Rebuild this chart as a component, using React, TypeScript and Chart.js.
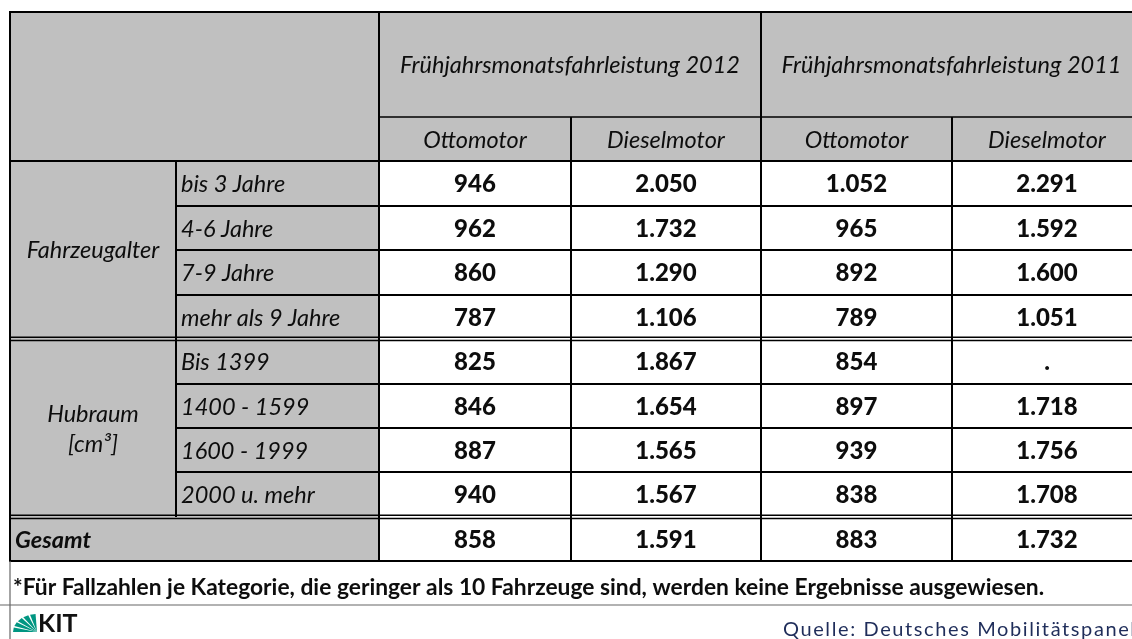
import React, { useEffect, useRef } from "react";
import { Chart, registerables } from "chart.js";

Chart.register(...registerables);

// ---- data ----
const yearHeaders = ["Frühjahrsmonatsfahrleistung 2012", "Frühjahrsmonatsfahrleistung 2011"];
const engineHeaders = ["Ottomotor", "Dieselmotor", "Ottomotor", "Dieselmotor"];
const groupLabels = [["Fahrzeugalter"], ["Hubraum", "[cm³]"]];
const rowLabels = [
  "bis 3 Jahre",
  "4-6 Jahre",
  "7-9 Jahre",
  "mehr als 9 Jahre",
  "Bis 1399",
  "1400 - 1599",
  "1600 - 1999",
  "2000 u. mehr",
];
const totalLabel = "Gesamt";
const otto2012 = [946, 962, 860, 787, 825, 846, 887, 940];
const diesel2012 = [2050, 1732, 1290, 1106, 1867, 1654, 1565, 1567];
const otto2011 = [1052, 965, 892, 789, 854, 897, 939, 838];
const diesel2011 = [2291, 1592, 1600, 1051, null, 1718, 1756, 1708];
const totals = [858, 1591, 883, 1732];
const footnote =
  "*Für Fallzahlen je Kategorie, die geringer als 10 Fahrzeuge sind, werden keine Ergebnisse ausgewiesen.";
const sourceText = "Quelle: Deutsches Mobilitätspanel";

// ---- layout (scale units) ----
const W = 1132;
const H = 639;
const colEdges = [10, 176, 379, 571, 761, 952, 1142];
const rowEdges = [12, 117, 161, 206, 250, 295, 339, 384, 428, 472, 517, 561];
const GRAY = "#c0c0c0";
const FONT = "Lato, 'Open Sans', sans-serif";

function fmt(v: number | null): string {
  if (v === null || v === undefined) return ".";
  if (v >= 1000) return `${Math.floor(v / 1000)}.${String(v % 1000).padStart(3, "0")}`;
  return String(v);
}

const valueColumns = [otto2012, diesel2012, otto2011, diesel2011];

const tablePlugin = {
  id: "tablePlugin",
  beforeDatasetsDraw(chart: any) {
    const ctx = chart.ctx as CanvasRenderingContext2D;
    const xs = chart.scales.x;
    const ys = chart.scales.y;
    const X = (v: number) => xs.getPixelForValue(v);
    const Y = (v: number) => ys.getPixelForValue(v);
    ctx.save();
    ctx.fillStyle = "#ffffff";
    ctx.fillRect(0, 0, chart.width, chart.height);
    ctx.fillStyle = GRAY;
    ctx.fillRect(X(colEdges[0]), Y(rowEdges[0]), X(colEdges[6]) - X(colEdges[0]), Y(rowEdges[2]) - Y(rowEdges[0]));
    ctx.fillRect(X(colEdges[0]), Y(rowEdges[2]), X(colEdges[2]) - X(colEdges[0]), Y(rowEdges[11]) - Y(rowEdges[2]));

    const hline = (y: number, x0: number, x1: number, w = 2, c = "#000") => {
      ctx.strokeStyle = c;
      ctx.lineWidth = w;
      ctx.beginPath();
      ctx.moveTo(X(x0), Y(y));
      ctx.lineTo(X(x1), Y(y));
      ctx.stroke();
    };
    const vline = (x: number, y0: number, y1: number, w = 2, c = "#000") => {
      ctx.strokeStyle = c;
      ctx.lineWidth = w;
      ctx.beginPath();
      ctx.moveTo(X(x), Y(y0));
      ctx.lineTo(X(x), Y(y1));
      ctx.stroke();
    };
    const L = colEdges[0];
    const R = colEdges[6];
    hline(rowEdges[0], L - 1, R);
    hline(rowEdges[1], colEdges[2], R, 1.5);
    hline(rowEdges[2], L - 1, R);
    [3, 4, 5, 7, 8, 9].forEach((i) => hline(rowEdges[i], colEdges[1], R));
    [6, 10].forEach((i) => {
      hline(rowEdges[i] - 1.8, L - 1, R, 1.5);
      hline(rowEdges[i] + 1.6, L - 1, R, 1.5);
    });
    hline(rowEdges[11], L - 1, R);
    vline(L, rowEdges[0] - 1, rowEdges[11]);
    vline(colEdges[1], rowEdges[2], rowEdges[10]);
    vline(colEdges[2], rowEdges[0], rowEdges[11]);
    vline(colEdges[4], rowEdges[0], rowEdges[11]);
    vline(colEdges[3], rowEdges[1], rowEdges[11]);
    vline(colEdges[5], rowEdges[1], rowEdges[11]);
    hline(605, 0, W, 1.2, "#666");
    vline(L, rowEdges[11], H, 1.2, "#666");
    ctx.restore();
  },
  afterDatasetsDraw(chart: any) {
    const ctx = chart.ctx as CanvasRenderingContext2D;
    const xs = chart.scales.x;
    const ys = chart.scales.y;
    const X = (v: number) => xs.getPixelForValue(v);
    const Y = (v: number) => ys.getPixelForValue(v);
    const cx = (i: number) => (X(colEdges[i]) + X(colEdges[i + 1])) / 2;
    const cy = (i: number) => (Y(rowEdges[i]) + Y(rowEdges[i + 1])) / 2;
    ctx.save();
    ctx.textBaseline = "middle";
    ctx.fillStyle = "#0d0d0d";
    ctx.font = `italic 23.5px ${FONT}`;
    ctx.textAlign = "center";
    yearHeaders.forEach((t, i) => {
      ctx.fillText(t, (X(colEdges[2 + i * 2]) + X(colEdges[4 + i * 2])) / 2, cy(0) + 1);
    });
    engineHeaders.forEach((t, i) => ctx.fillText(t, cx(2 + i), cy(1) + 1));
    ctx.fillText(groupLabels[0][0], cx(0), (Y(rowEdges[2]) + Y(rowEdges[6])) / 2);
    const hm = (Y(rowEdges[6]) + Y(rowEdges[10])) / 2;
    ctx.fillText(groupLabels[1][0], cx(0), hm - 14);
    ctx.fillText(groupLabels[1][1], cx(0), hm + 16);
    ctx.textAlign = "left";
    rowLabels.forEach((t, i) => ctx.fillText(t, X(colEdges[1]) + 5, cy(i + 2) + 1));
    ctx.font = `italic bold 23.5px ${FONT}`;
    ctx.fillText(totalLabel, X(colEdges[0]) + 5, cy(10) + 1);
    ctx.font = `900 24px ${FONT}`;
    ctx.textAlign = "center";
    chart.data.datasets.forEach((ds: any, di: number) => {
      const meta = chart.getDatasetMeta(di);
      meta.data.forEach((el: any, pi: number) => {
        ctx.fillText(ds.labelsText[pi], el.x, el.y + 1);
      });
    });
    ctx.textAlign = "left";
    ctx.font = `bold 22.8px ${FONT}`;
    ctx.fillText(footnote, 13, 588);
    // KIT logo
    ctx.fillStyle = "#009682";
    const ox = 15, oy = 632;
    for (let k = 0; k < 5; k++) {
      const a0 = Math.PI + (k * Math.PI) / 10 + 0.02;
      const a1 = a0 + Math.PI / 10 - 0.08;
      ctx.beginPath();
      ctx.moveTo(ox + 22, oy);
      ctx.lineTo(ox + 22 + 24 * Math.cos(a0), oy + 18 * Math.sin(a0) * (k === 0 ? 0 : 1));
      ctx.lineTo(ox + 22 + 24 * Math.cos(a1), oy + 18 * Math.sin(a1));
      ctx.closePath();
      ctx.fill();
    }
    ctx.fillStyle = "#111";
    ctx.font = `bold 25px 'Liberation Sans Narrow', ${FONT}`;
    ctx.textBaseline = "alphabetic";
    ctx.fillText("KIT", 38, 632);
    ctx.fillStyle = "#1f2d5a";
    ctx.font = `20px ${FONT}`;
    (ctx as any).letterSpacing = "1.6px";
    ctx.fillText(sourceText, 783, 636);
    ctx.restore();
  },
};

export default function App() {
  const ref = useRef<HTMLCanvasElement>(null);
  useEffect(() => {
    if (!ref.current) return;
    const cxs = [0, 1, 2, 3].map((c) => (colEdges[c + 2] + colEdges[c + 3]) / 2);
    const cys = [...rowLabels.map((_, i) => i + 2), 10].map((r) => (rowEdges[r] + rowEdges[r + 1]) / 2);
    const datasets = valueColumns.map((col, c) => {
      const vals = [...col, totals[c]];
      return {
        label: engineHeaders[c],
        data: vals.map((v, i) => ({ x: cxs[c], y: cys[i], v })),
        labelsText: vals.map((v) => fmt(v as number | null)),
        pointRadius: 0,
        showLine: false,
      };
    });
    const chart = new Chart(ref.current, {
      type: "scatter",
      data: { datasets } as any,
      options: {
        animation: false,
        responsive: false,
        devicePixelRatio: 1,
        layout: { padding: 0 },
        plugins: { legend: { display: false }, tooltip: { enabled: false } },
        scales: {
          x: { type: "linear", min: 0, max: W, display: false },
          y: { type: "linear", min: 0, max: H, reverse: true, display: false },
        },
      },
      plugins: [tablePlugin],
    });
    return () => chart.destroy();
  }, []);
  return (
    <div style={{ position: "absolute", left: 0, top: 0, width: W, height: H, background: "#fff" }}>
      <canvas ref={ref} width={W} height={H} style={{ display: "block" }} />
    </div>
  );
}
